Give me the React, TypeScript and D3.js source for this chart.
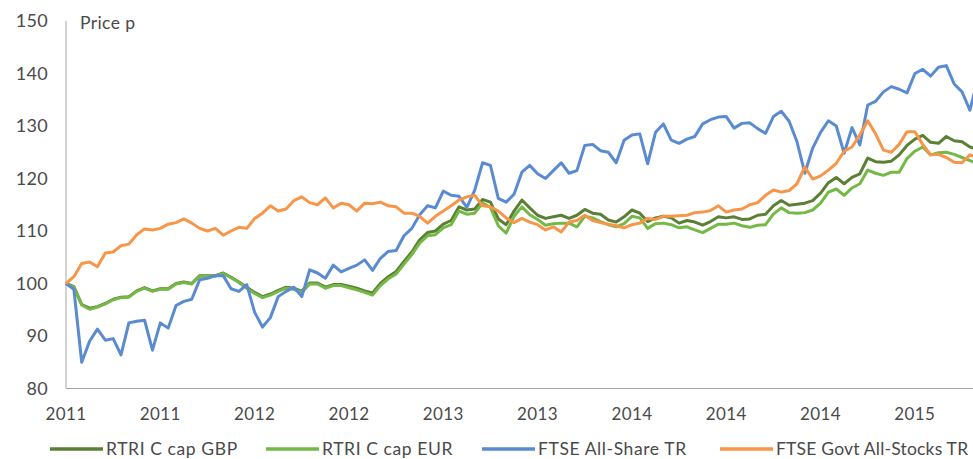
import React, { useEffect, useRef } from "react";
import * as d3 from "d3";

// approx. fortnightly readings, rebased to 100
const tickLabels = ["2011", "2011", "2012", "2012", "2013", "2013", "2014", "2014", "2014", "2015"];
const tickEvery = 12;

const rtriGbp = [
  100, 99.4, 96, 95.3, 95.6, 96.2, 97, 97.4, 97.5, 98.6, 99.2, 98.6, 99, 99, 100, 100.3, 100, 101.5, 101.5, 101.5,
  102, 101.2, 100.3, 99.3, 98.3, 97.5, 98, 98.7, 99.3, 99.1, 98.5, 100.1, 100.1, 99.3, 99.8, 99.8, 99.5, 99.1, 98.6, 98.2,
  100, 101.3, 102.3, 104.2, 106, 108.3, 109.7, 110, 111.3, 112, 114.6, 114, 114.2, 116, 115.5, 112.3, 111.2, 113.8, 115.9, 114.4,
  113, 112.4, 112.7, 113, 112.4, 113, 114.1, 113.4, 113.2, 112.1, 111.7, 112.7, 114, 113.4, 111.8, 112.5, 112.8, 112.5, 111.5, 112,
  111.7, 111.1, 111.8, 112.7, 112.5, 112.7, 112.2, 112.3, 113, 113.2, 114.8, 115.8, 114.9, 115.1, 115.3, 115.8, 117.2, 119.2, 120.2, 119,
  120.2, 120.9, 123.9, 123.2, 123.1, 123.3, 124.5, 126.3, 127.5, 128.2, 126.9, 126.7, 128, 127.2, 127, 126, 125.6,
];

const rtriEur = [
  100, 99.3, 95.9, 95.1, 95.5, 96.1, 96.9, 97.3, 97.4, 98.5, 99.1, 98.5, 98.9, 98.9, 99.9, 100.2, 99.9, 101.4, 101.4, 101.4,
  101.9, 101.1, 100.2, 99.1, 98.1, 97.3, 97.8, 98.5, 99.1, 98.9, 98.3, 99.9, 99.9, 99.1, 99.6, 99.6, 99.2, 98.8, 98.3, 97.8,
  99.6, 100.9, 101.8, 103.7, 105.5, 107.7, 109.1, 109.3, 110.6, 111.2, 113.8, 113.2, 113.4, 115.3, 114.5, 111, 109.6, 112.8, 114.6, 113.1,
  112.2, 111.1, 111.4, 111.5, 111.5, 110.8, 112.8, 112.5, 111.8, 111.2, 110.8, 111.4, 112.8, 112.5, 110.5, 111.4, 111.5, 111.2, 110.6, 110.8,
  110.2, 109.7, 110.5, 111.3, 111.3, 111.5, 111, 110.7, 111.1, 111.2, 113.2, 114.4, 113.5, 113.4, 113.5, 114, 115.3, 117.4, 118, 116.8,
  118.2, 119, 121.6, 121, 120.6, 121.2, 121.2, 123.8, 125.2, 126, 124.5, 124.9, 125, 124.6, 124, 123.4, 122.8,
];

const ftseAllShare = [
  100, 98.9, 85, 89, 91.3, 89.2, 89.5, 86.4, 92.5, 92.8, 93, 87.3, 92.5, 91.5, 95.8, 96.6, 97, 100.7, 101, 101.5,
  101.5, 99, 98.5, 99.8, 94.5, 91.7, 93.5, 97.5, 98.5, 99.3, 97.5, 102.6, 102, 101, 103.5, 102.2, 102.9, 103.5, 104.5, 102.5,
  104.8, 106.1, 106.3, 109.1, 110.5, 113.1, 114.8, 114.4, 117.6, 116.8, 116.6, 114.5, 117.8, 123, 122.5, 116.2, 115.5, 117, 121.2, 122.5,
  120.9, 120, 121.5, 123, 121, 121.5, 126.3, 126.5, 125.3, 125, 123, 127.3, 128.3, 128.5, 122.8, 128.8, 130.4, 127.3, 126.7, 127.5,
  128, 130.4, 131.2, 131.7, 131.8, 129.6, 130.5, 130.6, 129.5, 128.6, 131.8, 132.8, 130.9, 127, 121, 125.8, 128.8, 131, 130, 124.8,
  129.7, 126.4, 134, 134.7, 136.5, 137.5, 137, 136.3, 140, 140.8, 139.5, 141.2, 141.5, 138, 136.5, 133, 139,
];

const ftseGovt = [
  100, 101.3, 103.8, 104.1, 103.2, 105.8, 106, 107.2, 107.5, 109.3, 110.4, 110.2, 110.5, 111.3, 111.6, 112.3, 111.5, 110.5, 110, 110.5,
  109.2, 110, 110.7, 110.5, 112.4, 113.4, 114.8, 113.8, 114.2, 115.8, 116.5, 115.4, 115, 116.3, 114.4, 115.3, 115, 113.8, 115.3, 115.2,
  115.5, 114.8, 114.6, 113.4, 113.4, 112.8, 111.5, 112.8, 113.8, 114.8, 115.9, 116.5, 116.8, 114.8, 114.6, 113.8, 112.5, 111.6, 112.4, 111.7,
  111.2, 110.2, 110.8, 109.8, 111.7, 112, 113, 112, 111.6, 111.3, 111, 110.6, 111.2, 111.5, 112.4, 112.2, 112.8, 112.8, 112.9, 113,
  113.5, 113.6, 113.9, 114.8, 113.6, 114, 114.2, 115, 115.4, 116.8, 117.8, 117.4, 117.7, 119, 122.2, 119.9, 120.5, 121.6, 122.9, 125.2,
  126, 128.3, 131, 128.5, 125.4, 125, 126.5, 128.9, 128.9, 126.5, 124.5, 124.6, 124, 123.1, 123, 124.5, 124,
];

const yTicks = [80, 90, 100, 110, 120, 130, 140, 150];

const series = [
  { name: "RTRI C cap GBP", values: rtriGbp, color: "#5b7f34" },
  { name: "RTRI C cap EUR", values: rtriEur, color: "#74b846" },
  { name: "FTSE All-Share TR", values: ftseAllShare, color: "#5a8bd1" },
  { name: "FTSE Govt All-Stocks TR", values: ftseGovt, color: "#f79548" },
];

const W = 973;
const H = 459;
const FONT = "Lato, 'Open Sans', sans-serif";
const TEXT = "#4a4a4a";

const App: React.FC = () => {
  const svgRef = useRef<SVGSVGElement>(null);

  useEffect(() => {
    if (!svgRef.current) return;
    const svg = d3.select(svgRef.current);
    svg.selectAll("*").remove();

    const left = 66;
    const step = 7.86;
    const n = rtriGbp.length;

    const x = d3.scaleLinear().domain([0, n - 1]).range([left, left + step * (n - 1)]);
    const y = d3.scaleLinear().domain([80, 150]).range([388.5, 21]);

    // axes lines
    svg
      .append("line")
      .attr("x1", left)
      .attr("x2", left)
      .attr("y1", y(150))
      .attr("y2", y(80))
      .attr("stroke", "#a6a6a6")
      .attr("stroke-width", 1);
    svg
      .append("line")
      .attr("x1", left)
      .attr("x2", W)
      .attr("y1", y(80))
      .attr("y2", y(80))
      .attr("stroke", "#a6a6a6")
      .attr("stroke-width", 1);

    // y tick labels
    svg
      .append("g")
      .selectAll("text")
      .data(yTicks)
      .enter()
      .append("text")
      .attr("x", 48)
      .attr("y", (d) => y(d))
      .attr("dy", "0.35em")
      .attr("text-anchor", "end")
      .attr("font-family", FONT)
      .attr("font-size", 18)
      .attr("letter-spacing", 0.3)
      .attr("fill", TEXT)
      .text((d) => d);

    // x tick labels
    svg
      .append("g")
      .selectAll("text")
      .data(tickLabels)
      .enter()
      .append("text")
      .attr("x", (d, i) => x(i * tickEvery))
      .attr("y", 420)
      .attr("text-anchor", "middle")
      .attr("font-family", FONT)
      .attr("font-size", 17)
      .attr("letter-spacing", 0.4)
      .attr("fill", TEXT)
      .text((d) => d);

    svg
      .append("text")
      .attr("x", 80)
      .attr("y", 29)
      .attr("font-family", FONT)
      .attr("font-size", 17.5)
      .attr("letter-spacing", 0.4)
      .attr("fill", TEXT)
      .text("Price p");

    const line = d3
      .line<number>()
      .x((d, i) => x(i))
      .y((d) => y(d));

    svg
      .append("g")
      .selectAll("path")
      .data(series)
      .enter()
      .append("path")
      .attr("d", (d) => line(d.values))
      .attr("fill", "none")
      .attr("stroke", (d) => d.color)
      .attr("stroke-width", 3)
      .attr("stroke-linejoin", "round");

    // legend
    const legendX = [50, 266, 482, 720];
    const leg = svg
      .append("g")
      .selectAll("g")
      .data(series)
      .enter()
      .append("g")
      .attr("transform", (d, i) => `translate(${legendX[i]}, 449)`);
    leg
      .append("line")
      .attr("x1", 0)
      .attr("x2", 53)
      .attr("stroke", (d) => d.color)
      .attr("stroke-width", 3.5);
    leg
      .append("text")
      .attr("x", 56)
      .attr("dy", "0.35em")
      .attr("font-family", FONT)
      .attr("font-size", 17.5)
      .attr("letter-spacing", (d, i) => (i === 3 ? 0.2 : 0.6))
      .attr("fill", TEXT)
      .text((d) => d.name);
  }, []);

  return (
    <svg
      ref={svgRef}
      width={W}
      height={H}
      style={{ position: "absolute", left: 0, top: 0, background: "#fff" }}
    ></svg>
  );
};

export default App;
